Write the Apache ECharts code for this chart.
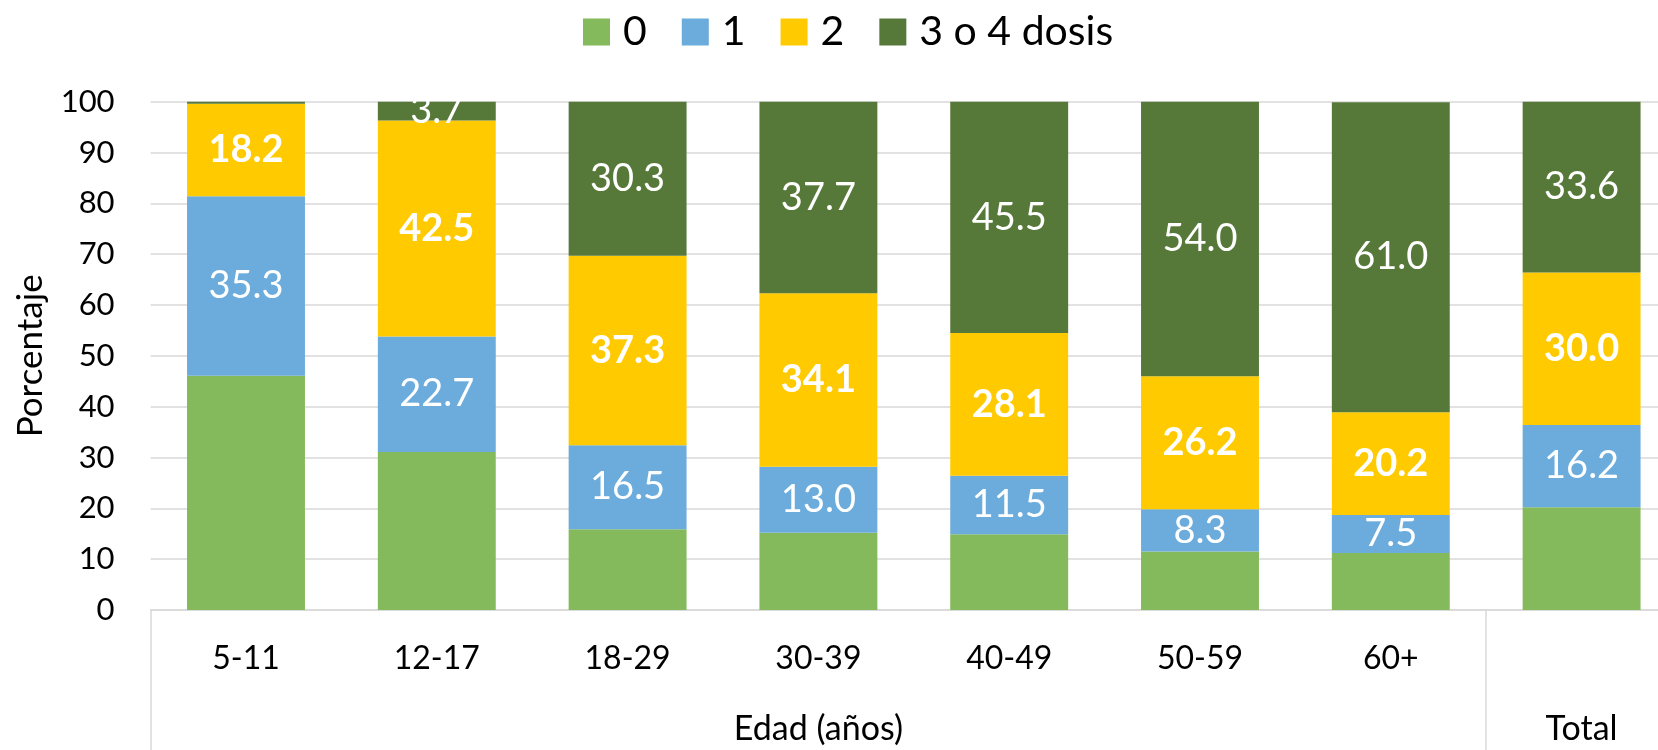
<!DOCTYPE html>
<html>
<head>
<meta charset="utf-8">
<title>Dosis por edad</title>
<script src="https://cdn.jsdelivr.net/npm/echarts@6/dist/echarts.min.js"></script>
<style>
  html, body { margin: 0; padding: 0; background: #fff; }
  #chart { width: 1658px; height: 750px; }
</style>
</head>
<body>
<div id="chart"></div>
<script>
var categories = ['5-11', '12-17', '18-29', '30-39', '40-49', '50-59', '60+', ''];
var groupNames = ['Edad (años)', 'Total'];
var groupSpans = [7, 1];
var seriesNames = ['0', '1', '2', '3 o 4 dosis'];
var dosis0 = [46.1, 31.1, 15.9, 15.2, 14.9, 11.5, 11.2, 20.2];
var dosis1 = [35.3, 22.7, 16.5, 13.0, 11.5, 8.3, 7.5, 16.2];
var dosis2 = [18.2, 42.5, 37.3, 34.1, 28.1, 26.2, 20.2, 30.0];
var dosis34 = [0.4, 3.7, 30.3, 37.7, 45.5, 54.0, 61.0, 33.6];
var yTicks = [0, 10, 20, 30, 40, 50, 60, 70, 80, 90, 100];

var colores = ['#84ba5b', '#6cacdc', '#ffca00', '#56793a'];
var fuente = 'Lato, "Noto Sans", sans-serif';

// limites de los grupos del eje (0, 7, 8) y centros de etiqueta
var groupTicks = [0];
var groupCenters = [];
groupSpans.forEach(function (s) {
  var ini = groupTicks[groupTicks.length - 1];
  groupCenters.push(ini + s / 2);
  groupTicks.push(ini + s);
});

function etiqueta(bold, mostrar) {
  return {
    show: mostrar,
    position: 'inside',
    color: '#fff',
    fontFamily: fuente,
    fontSize: 38,
    fontWeight: bold ? 'bold' : 'normal',
    formatter: function (p) {
      return p.value < 1 ? '' : p.value.toFixed(1);
    }
  };
}

var datos = [dosis0, dosis1, dosis2, dosis34];
var series = datos.map(function (d, i) {
  return {
    name: seriesNames[i],
    type: 'bar',
    stack: 'total',
    barWidth: '61.8%',
    data: d,
    itemStyle: { color: colores[i] },
    label: etiqueta(i === 2, i !== 0)
  };
});

var myChart = echarts.init(document.getElementById('chart'));
var option = {
  animation: false,
  textStyle: { fontFamily: fuente },
  legend: {
    data: seriesNames,
    left: 578,
    top: 6,
    icon: 'rect',
    itemWidth: 27,
    itemHeight: 27,
    itemGap: 35,
    textStyle: {
      fontFamily: fuente,
      fontSize: 41,
      lineHeight: 42,
      color: '#000',
      padding: [0, 0, 0, 8]
    }
  },
  grid: {
    left: 150.6,
    top: 101.7,
    bottom: 140,
    width: 1526.4,
    outerBoundsMode: 'none'
  },
  xAxis: [
    {
      type: 'category',
      data: categories,
      axisLine: { lineStyle: { color: '#d9d9d9', width: 1.5 } },
      axisTick: { show: false },
      axisLabel: {
        color: '#000',
        fontFamily: fuente,
        fontSize: 32,
        lineHeight: 32,
        margin: 33
      }
    },
    {
      type: 'value',
      position: 'bottom',
      min: 0,
      max: groupTicks[groupTicks.length - 1],
      axisLine: { show: false },
      splitLine: { show: false },
      axisTick: {
        show: true,
        customValues: groupTicks,
        length: 140,
        lineStyle: { color: '#d9d9d9', width: 1.5 }
      },
      axisLabel: {
        customValues: groupCenters,
        color: '#000',
        fontFamily: fuente,
        fontSize: 34,
        lineHeight: 34,
        margin: 102,
        formatter: function (v) {
          return groupNames[groupCenters.indexOf(v)];
        }
      }
    }
  ],
  yAxis: {
    type: 'value',
    min: yTicks[0],
    max: yTicks[yTicks.length - 1],
    interval: yTicks[1] - yTicks[0],
    name: 'Porcentaje',
    nameLocation: 'middle',
    nameGap: 102,
    nameTextStyle: { color: '#000', fontFamily: fuente, fontSize: 35 },
    axisLine: { show: false },
    axisTick: { show: false },
    axisLabel: { color: '#000', fontFamily: fuente, fontSize: 31, margin: 36 },
    splitLine: { lineStyle: { color: '#d9d9d9', width: 1.5 } }
  },
  series: series
};
myChart.setOption(option);

window.addEventListener('resize', function () {
  if (myChart != null && myChart != undefined) {
    myChart.resize();
  }
});
</script>
</body>
</html>
